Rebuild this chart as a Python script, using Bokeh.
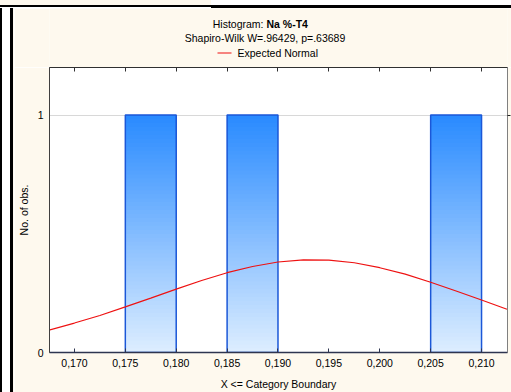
import numpy as np
from bokeh.plotting import figure
from bokeh.models import Range1d, FixedTicker, LinearAxis, Div
from bokeh.layouts import column, row
from bokeh.embed import file_html
from bokeh.resources import INLINE
from bokeh.core.properties import value

# ---- data ----
bin_left = [0.170, 0.175, 0.180, 0.185, 0.190, 0.195, 0.200, 0.205]
bin_right = [0.175, 0.180, 0.185, 0.190, 0.195, 0.200, 0.205, 0.210]
counts = [0, 1, 0, 1, 0, 0, 0, 1]

curve_x = [0.1675, 0.1700, 0.1725, 0.1750, 0.1775, 0.1800, 0.1825, 0.1850, 0.1875, 0.1900,
           0.1925, 0.1950, 0.1975, 0.2000, 0.2025, 0.2050, 0.2075, 0.2100, 0.2125]
curve_y = [0.094, 0.124, 0.156, 0.192, 0.229, 0.267, 0.303, 0.336, 0.362, 0.381,
           0.390, 0.389, 0.378, 0.357, 0.330, 0.296, 0.259, 0.221, 0.182]

x_ticks = [0.170, 0.175, 0.180, 0.185, 0.190, 0.195, 0.200, 0.205, 0.210]
x_tick_labels = ["0,170", "0,175", "0,180", "0,185", "0,190", "0,195", "0,200", "0,205", "0,210"]
y_ticks = [0, 1]

title_main = "Histogram:"
title_var = "Na %-T4"
subtitle = "Shapiro-Wilk W=.96429, p=.63689"
legend_text = "Expected Normal"
x_label = "X <= Category Boundary"
y_label = "No. of obs."

FONT = "Liberation Sans"
FS = "10.5px"
CREAM = "#FEF9EE"
RED = "#ee1111"

# ---- header (titles + legend); its frame is aligned with the main plot frame ----
HH = 59
h = figure(width=497, height=HH, x_range=Range1d(49, 507), y_range=Range1d(0, HH),
           output_backend="svg", toolbar_location=None, x_axis_type=None, y_axis_type=None,
           min_border=0, background_fill_color=CREAM, border_fill_color=CREAM,
           outline_line_color=None)
h.xgrid.visible = False
h.ygrid.visible = False
h.text(x=[263], y=[44], text=[title_main], text_align="right", text_baseline="middle",
       text_font=value(FONT), text_font_size=FS, text_color="black")
h.text(x=[266], y=[44], text=[title_var], text_align="left", text_baseline="middle",
       text_font=value(FONT), text_font_size=FS, text_font_style="bold", text_color="black")
h.text(x=[264.5], y=[30], text=[subtitle], text_align="center", text_baseline="middle",
       text_font=value(FONT), text_font_size=FS, text_color="black")
h.segment(x0=[217], y0=[14.5], x1=[231], y1=[14.5], line_color=RED, line_width=1.2)
h.text(x=[237], y=[14.5], text=[legend_text], text_align="left", text_baseline="middle",
       text_font=value(FONT), text_font_size=FS, text_color="black")

# ---- main plot ----
p = figure(width=497, height=325,
           x_range=Range1d(0.16755, 0.21255), y_range=Range1d(0, 1.2),
           output_backend="svg", toolbar_location=None,
           min_border_left=35, min_border_right=4, min_border_top=0, min_border_bottom=40,
           background_fill_color="white", border_fill_color=CREAM,
           outline_line_color="#808080")

top_c = np.array([40, 138, 255])
bot_c = np.array([222, 238, 255])
n_seg = 60
for l, r, c in zip(bin_left, bin_right, counts):
    if c <= 0:
        continue
    bottoms = np.linspace(0, c, n_seg + 1)[:-1]
    cols = []
    for i in range(n_seg):
        t = (i + 0.5) / n_seg
        rgb = bot_c * (1 - t) + top_c * t
        cols.append("#%02x%02x%02x" % tuple(int(round(v)) for v in rgb))
    p.quad(left=[l] * n_seg, right=[r] * n_seg, bottom=list(bottoms), top=[c] * n_seg,
           fill_color=cols, line_color=None)
    p.quad(left=[l], right=[r], bottom=[0], top=[c], fill_color=None,
           line_color="#1b57d8", line_width=1.5)

p.line(curve_x, curve_y, line_color=RED, line_width=1.2)

xa = p.below[0]
xa.ticker = FixedTicker(ticks=x_ticks)
xa.major_label_overrides = {t: s for t, s in zip(x_ticks, x_tick_labels)}
xa.major_tick_in = 4
xa.major_tick_out = 0
xa.minor_tick_line_color = None
xa.major_label_standoff = 6
xa.axis_label = x_label
xa.axis_label_standoff = 8
xa.axis_line_color = "#2e3550"
xa.axis_line_width = 1.5
xa.major_tick_line_color = "#2e3550"

ya = p.left[0]
ya.ticker = FixedTicker(ticks=y_ticks)
ya.major_tick_in = 0
ya.major_tick_out = 0
ya.minor_tick_line_color = None
ya.major_label_standoff = 6
ya.axis_label = y_label
ya.axis_label_standoff = 5
ya.axis_line_color = "#404040"

for ax in (xa, ya):
    ax.major_label_text_font = FONT
    ax.major_label_text_font_size = FS
    ax.major_label_text_color = "black"
    ax.axis_label_text_font = FONT
    ax.axis_label_text_font_size = FS
    ax.axis_label_text_font_style = "normal"
    ax.axis_label_text_color = "black"

top_axis = LinearAxis(ticker=FixedTicker(ticks=x_ticks), major_tick_in=4, major_tick_out=0,
                      minor_tick_line_color=None, major_label_text_font_size="0px",
                      major_label_text_color=None, axis_line_color="#303030",
                      major_tick_line_color="#303030", major_label_standoff=0)
p.add_layout(top_axis, "above")

right_axis = LinearAxis(ticker=FixedTicker(ticks=[y_ticks[1]]), major_tick_in=0, major_tick_out=3,
                        minor_tick_line_color=None, major_label_text_font_size="0px",
                        major_label_text_color=None, axis_line_color="#808080",
                        major_tick_line_color="#202020", major_label_standoff=0)
p.add_layout(right_axis, "right")

p.xgrid.visible = False
p.ygrid.grid_line_color = "#d8d8d8"

# ---- window frame pieces ----
top_left = Div(width=211, height=8, margin=0,
               styles={"background": "linear-gradient(to bottom, %s 0px, %s 5px, black 5px, black 7px, white 7px)" % (CREAM, CREAM)})
top_right = Div(width=300, height=8, margin=0,
                styles={"background": "linear-gradient(to bottom, white 0px, white 5px, black 5px, black 8px)"})
left_div = Div(width=14, height=384, margin=0,
               styles={"background": "linear-gradient(to right, black 0px, black 2px, white 2px, white 10px, black 10px, black 13px, %s 13px)" % CREAM})

layout = column(row(top_left, top_right, spacing=0),
                row(left_div, column(h, p, spacing=0), spacing=0),
                spacing=0)

open("out.html", "w").write(file_html(layout, INLINE))
